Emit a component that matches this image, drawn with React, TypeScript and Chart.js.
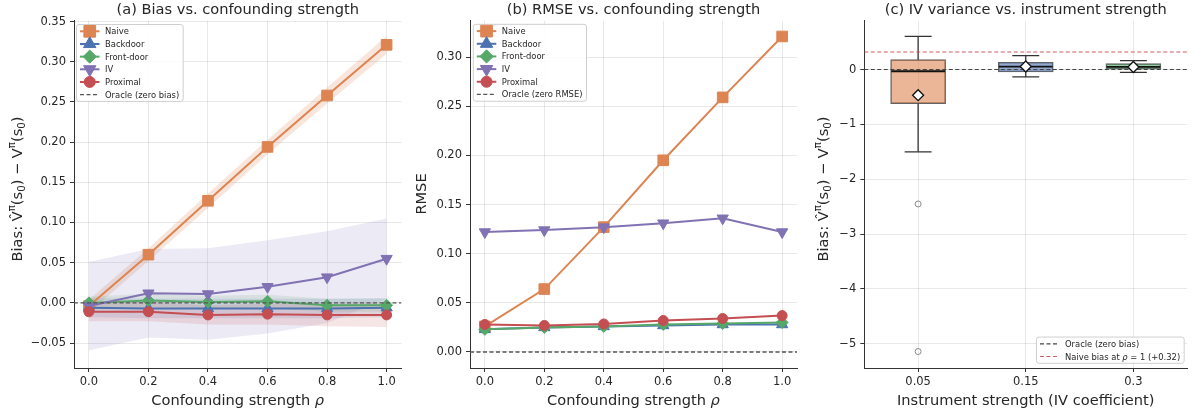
import React, { useEffect, useRef } from 'react';
import { Chart, registerables } from 'chart.js';

Chart.register(...registerables);

// ---------------- data ----------------
const rho = [0, 0.2, 0.4, 0.6, 0.8, 1.0];
const rhoTicks = [0, 0.2, 0.4, 0.6, 0.8, 1.0];
const biasTicks = [-0.05, 0, 0.05, 0.1, 0.15, 0.2, 0.25, 0.3, 0.35];
const rmseTicks = [0, 0.05, 0.1, 0.15, 0.2, 0.25, 0.3];

// (a) mean bias per method
const biasNaive = [-0.004, 0.060, 0.127, 0.194, 0.258, 0.321];
const biasBackdoor = [-0.006, -0.007, -0.007, -0.007, -0.007, -0.006];
const biasFrontdoor = [0.000, 0.003, 0.001, 0.002, -0.003, -0.003];
const biasIV = [-0.004, 0.012, 0.011, 0.020, 0.032, 0.055];
const biasProximal = [-0.011, -0.011, -0.015, -0.014, -0.015, -0.015];

// (a) half-widths of shaded bands
const bandNaive = [0.008, 0.008, 0.009, 0.009, 0.010, 0.011];
const bandBackdoor = [0.012, 0.012, 0.012, 0.012, 0.012, 0.012];
const bandFrontdoor = [0.008, 0.008, 0.008, 0.008, 0.008, 0.008];
const bandIV = [0.055, 0.055, 0.057, 0.058, 0.057, 0.050];
const bandProximal = [0.012, 0.012, 0.012, 0.013, 0.014, 0.015];

// (b) RMSE per method
const rmseNaive = [0.026, 0.064, 0.127, 0.195, 0.259, 0.321];
const rmseBackdoor = [0.023, 0.025, 0.026, 0.027, 0.028, 0.028];
const rmseFrontdoor = [0.023, 0.025, 0.026, 0.028, 0.029, 0.030];
const rmseIV = [0.122, 0.124, 0.127, 0.131, 0.136, 0.122];
const rmseProximal = [0.028, 0.027, 0.0285, 0.032, 0.034, 0.037];

// (c) IV bias distribution vs instrument strength
const ivStrength = ['0.05', '0.15', '0.3'];
const ivYTicks = [-5, -4, -3, -2, -1, 0];
const boxQ1 = [-0.62, -0.044, 0.0];
const boxQ3 = [0.18, 0.133, 0.109];
const boxMedian = [-0.031, 0.055, 0.05];
const boxMean = [-0.467, 0.055, 0.047];
const whiskerLow = [-1.50, -0.135, -0.05];
const whiskerHigh = [0.605, 0.255, 0.164];
const outliers = [[-2.45, -5.14], [], []];
const naiveBiasAtRho1 = 0.32;

// ---------------- styles ----------------
const FONT = '"DejaVu Sans", sans-serif';
const TXT = '#262626';
const GRID = 'rgba(0,0,0,0.09)';
const AXIS = '#333333';
const LABEL_SIZE = 14.6;
const COL = { blue: '#4C72B0', orange: '#DD8452', green: '#55A868', red: '#C44E52', purple: '#8172B3' };

function rgba(hex: string, a: number) {
  const n = parseInt(hex.slice(1), 16);
  return `rgba(${(n >> 16) & 255},${(n >> 8) & 255},${n & 255},${a})`;
}
const fmtMinus = (s: string) => s.replace('-', '\u2212');

type Method = { label: string; color: string; ps: string; r: number; rot: number; bias: number[]; band: number[]; rmse: number[]; bandAlpha: number };
const methods: Method[] = [
  { label: 'Naive', color: COL.orange, ps: 'rect', r: 7.5, rot: 0, bias: biasNaive, band: bandNaive, rmse: rmseNaive, bandAlpha: 0.2 },
  { label: 'Backdoor', color: COL.blue, ps: 'triangle', r: 6.5, rot: 0, bias: biasBackdoor, band: bandBackdoor, rmse: rmseBackdoor, bandAlpha: 0.15 },
  { label: 'Front-door', color: COL.green, ps: 'rectRot', r: 6, rot: 0, bias: biasFrontdoor, band: bandFrontdoor, rmse: rmseFrontdoor, bandAlpha: 0.15 },
  { label: 'IV', color: COL.purple, ps: 'triangle', r: 6.5, rot: 180, bias: biasIV, band: bandIV, rmse: rmseIV, bandAlpha: 0.15 },
  { label: 'Proximal', color: COL.red, ps: 'circle', r: 5, rot: 0, bias: biasProximal, band: bandProximal, rmse: rmseProximal, bandAlpha: 0.15 },
];

// ---------------- drawing helpers ----------------
type Seg = { t: string; s?: number; dy?: number; it?: boolean };
const segFont = (sg: Seg, size: number) => `${sg.it ? 'italic ' : ''}${size * (sg.s ?? 1)}px ${FONT}`;

function richWidth(ctx: CanvasRenderingContext2D, segs: Seg[], size: number) {
  let w = 0;
  for (const sg of segs) { ctx.font = segFont(sg, size); w += ctx.measureText(sg.t).width; }
  return w;
}
function drawRich(ctx: CanvasRenderingContext2D, segs: Seg[], x: number, baseline: number, size: number, color: string, align: 'center' | 'left') {
  const total = richWidth(ctx, segs, size);
  let cx = align === 'center' ? x - total / 2 : x;
  ctx.fillStyle = color;
  ctx.textAlign = 'left';
  ctx.textBaseline = 'alphabetic';
  for (const sg of segs) {
    ctx.font = segFont(sg, size);
    ctx.fillText(sg.t, cx, baseline + (sg.dy ?? 0) * size);
    cx += ctx.measureText(sg.t).width;
  }
}
function drawMarker(ctx: CanvasRenderingContext2D, style: string, rot: number, x: number, y: number, r: number, fill: string, stroke: string, lw: number) {
  ctx.beginPath();
  if (style === 'circle') ctx.arc(x, y, r, 0, Math.PI * 2);
  else if (style === 'rect') { const s = r * Math.SQRT1_2; ctx.rect(x - s, y - s, 2 * s, 2 * s); }
  else if (style === 'rectRot') { ctx.moveTo(x, y - r); ctx.lineTo(x + r, y); ctx.lineTo(x, y + r); ctx.lineTo(x - r, y); ctx.closePath(); }
  else if (style === 'triangle') {
    let a = (rot * Math.PI) / 180;
    ctx.moveTo(x + Math.sin(a) * r, y - Math.cos(a) * r);
    a += (2 * Math.PI) / 3; ctx.lineTo(x + Math.sin(a) * r, y - Math.cos(a) * r);
    a += (2 * Math.PI) / 3; ctx.lineTo(x + Math.sin(a) * r, y - Math.cos(a) * r);
    ctx.closePath();
  }
  ctx.fillStyle = fill; ctx.fill();
  ctx.lineWidth = lw; ctx.strokeStyle = stroke; ctx.stroke();
}

type LegendItem = { segs: Seg[]; color: string; dash?: number[]; lw: number; marker?: { style: string; rot: number; r: number } };
type Overlay = {
  xTitle: Seg[]; xBaseline: number;
  yTitle: Seg[]; yBaselineX: number; yCenter: number;
  legend: { anchor: 'tl' | 'br'; dx: number; dy: number; items: LegendItem[] };
};

function overlayPlugin(cfg: Overlay) {
  return {
    id: 'overlay',
    afterDraw(chart: any) {
      const ctx: CanvasRenderingContext2D = chart.ctx;
      const ca = chart.chartArea;
      ctx.save();
      drawRich(ctx, cfg.xTitle, (ca.left + ca.right) / 2, cfg.xBaseline, LABEL_SIZE, TXT, 'center');
      ctx.save();
      ctx.translate(cfg.yBaselineX, cfg.yCenter);
      ctx.rotate(-Math.PI / 2);
      drawRich(ctx, cfg.yTitle, 0, 0, LABEL_SIZE, TXT, 'center');
      ctx.restore();

      const L = cfg.legend;
      const fs = 8.4;
      const rowH = 12.66, first = 6.8, textX = 28.5, padR = 4, h0 = 3.5, h1 = 23;
      const tw = Math.max(...L.items.map(it => richWidth(ctx, it.segs, fs)));
      const w = textX + tw + padR;
      const h = first * 2 + (L.items.length - 1) * rowH;
      const bx = L.anchor === 'tl' ? ca.left + L.dx : ca.right - L.dx - w;
      const by = L.anchor === 'tl' ? ca.top + L.dy : ca.bottom - L.dy - h;
      const rr = 2.5;
      ctx.beginPath();
      ctx.moveTo(bx + rr, by);
      ctx.lineTo(bx + w - rr, by); ctx.arcTo(bx + w, by, bx + w, by + rr, rr);
      ctx.lineTo(bx + w, by + h - rr); ctx.arcTo(bx + w, by + h, bx + w - rr, by + h, rr);
      ctx.lineTo(bx + rr, by + h); ctx.arcTo(bx, by + h, bx, by + h - rr, rr);
      ctx.lineTo(bx, by + rr); ctx.arcTo(bx, by, bx + rr, by, rr);
      ctx.closePath();
      ctx.fillStyle = 'rgba(255,255,255,0.85)';
      ctx.fill();
      ctx.lineWidth = 1; ctx.strokeStyle = '#cfcfcf'; ctx.stroke();
      L.items.forEach((it, i) => {
        const cy = by + first + i * rowH;
        ctx.beginPath();
        ctx.setLineDash(it.dash ?? []);
        ctx.moveTo(bx + h0, cy); ctx.lineTo(bx + h1, cy);
        ctx.strokeStyle = it.color; ctx.lineWidth = it.lw; ctx.stroke();
        ctx.setLineDash([]);
        if (it.marker) drawMarker(ctx, it.marker.style, it.marker.rot, bx + (h0 + h1) / 2, cy, it.marker.r * 1.1, it.color, it.color, 1);
        drawRich(ctx, it.segs, bx + textX, cy + 0.36 * fs, fs, TXT, 'left');
      });
      ctx.restore();
    },
  };
}

function axis(ticks: number[], fmt: (v: number) => string, which: 'x' | 'y', fixed: number, min: number, max: number) {
  return {
    type: 'linear', min, max, offset: false,
    afterBuildTicks: (s: any) => { s.ticks = ticks.map(v => ({ value: v })); },
    afterFit: (s: any) => { if (which === 'x') s.height = fixed; else s.width = fixed; },
    grid: { color: GRID, lineWidth: 1, tickLength: 4, tickColor: AXIS, tickWidth: 1, offset: false },
    border: { color: AXIS, width: 1 },
    ticks: { font: { family: FONT, size: 11.5 }, color: TXT, padding: which === 'x' ? 3 : 4, callback: (v: any) => fmt(Number(v)), autoSkip: false, maxRotation: 0, minRotation: 0 },
    title: { display: false },
  };
}

function titleOpt(text: string) {
  return {
    display: true, text, fullSize: false, color: TXT,
    font: { family: FONT, size: 14.6, weight: 'normal' as const, lineHeight: 1.2 },
    padding: { top: 1.3, bottom: 1.9 },
  };
}

const biasYTitle: Seg[] = [
  { t: 'Bias: ' }, { t: 'V\u0302' }, { t: '\u03c0', s: 0.7, dy: -0.42 }, { t: '(s' }, { t: '0', s: 0.7, dy: 0.22 },
  { t: ') \u2212 V' }, { t: '\u03c0', s: 0.7, dy: -0.42 }, { t: '(s' }, { t: '0', s: 0.7, dy: 0.22 }, { t: ')' },
];
const rhoXTitle: Seg[] = [{ t: 'Confounding strength ' }, { t: '\u03c1', it: true }];

function methodLegend(oracleLabel: string): LegendItem[] {
  return [
    ...methods.map(m => ({ segs: [{ t: m.label }], color: m.color, lw: 2, marker: { style: m.ps, rot: m.rot, r: m.r } })),
    { segs: [{ t: oracleLabel }], color: '#555555', lw: 1.3, dash: [4, 2.5] },
  ];
}

function lineDs(m: Method, vals: number[]) {
  return {
    type: 'line', data: rho.map((x, i) => ({ x, y: vals[i] })),
    borderColor: m.color, backgroundColor: m.color, borderWidth: 2,
    pointStyle: m.ps, pointRadius: m.r, pointRotation: m.rot,
    pointBorderColor: m.color, pointBackgroundColor: m.color, pointBorderWidth: 1, fill: false,
  };
}
function oracleDs(xmin: number, xmax: number, color: string) {
  return {
    type: 'line', data: [{ x: xmin, y: 0 }, { x: xmax, y: 0 }], borderColor: color, borderWidth: 1.3,
    borderDash: [4, 2.5], pointRadius: 0, fill: false,
  };
}
function withOrder(ds: any[]) { ds.forEach((d, i) => { d.order = ds.length - i; }); return ds; }

const common = { animation: false as const, responsive: false, devicePixelRatio: 1, events: [] as any[] };

function configA(): any {
  const ds: any[] = [];
  methods.forEach(m => {
    ds.push({ type: 'line', data: rho.map((x, i) => ({ x, y: m.bias[i] - m.band[i] })), borderWidth: 0, pointRadius: 0, fill: false, borderColor: 'transparent' });
    ds.push({ type: 'line', data: rho.map((x, i) => ({ x, y: m.bias[i] + m.band[i] })), borderWidth: 0, pointRadius: 0, fill: '-1', borderColor: 'transparent', backgroundColor: rgba(m.color, m.bandAlpha) });
  });
  methods.forEach(m => ds.push(lineDs(m, m.bias)));
  ds.push(oracleDs(-0.05, 1.05, '#555555'));
  return {
    type: 'line',
    data: { datasets: withOrder(ds) },
    options: {
      ...common,
      layout: { padding: { left: 0, right: 8.3, top: 0, bottom: 0 } },
      plugins: { legend: { display: false }, tooltip: { enabled: false }, title: titleOpt('(a) Bias vs. confounding strength') },
      scales: {
        x: axis(rhoTicks, v => v.toFixed(1), 'x', 46, -0.05, 1.05),
        y: axis(biasTicks, v => fmtMinus(v.toFixed(2)), 'y', 74, -0.081, 0.351),
      },
    },
    plugins: [overlayPlugin({
      xTitle: rhoXTitle, xBaseline: 405.3,
      yTitle: biasYTitle, yBaselineX: 21.5, yCenter: 189,
      legend: { anchor: 'tl', dx: 2.5, dy: 3.8, items: methodLegend('Oracle (zero bias)') },
    })],
  };
}

function configB(): any {
  const ds: any[] = methods.map(m => lineDs(m, m.rmse));
  ds.push(oracleDs(-0.05, 1.05, '#555555'));
  return {
    type: 'line',
    data: { datasets: withOrder(ds) },
    options: {
      ...common,
      layout: { padding: { left: 0, right: 13, top: 0, bottom: 0 } },
      plugins: { legend: { display: false }, tooltip: { enabled: false }, title: titleOpt('(b) RMSE vs. confounding strength') },
      scales: {
        x: axis(rhoTicks, v => v.toFixed(1), 'x', 46, -0.05, 1.05),
        y: axis(rmseTicks, v => fmtMinus(v.toFixed(2)), 'y', 60, -0.0163, 0.337),
      },
    },
    plugins: [overlayPlugin({
      xTitle: rhoXTitle, xBaseline: 405.3,
      yTitle: [{ t: 'RMSE' }], yBaselineX: 15.5, yCenter: 194,
      legend: { anchor: 'tl', dx: 3.3, dy: 3.6, items: methodLegend('Oracle (zero RMSE)') },
    })],
  };
}

function configC(): any {
  const boxColors = [COL.orange, COL.blue, COL.green];
  const ds: any[] = [];
  ds.push({
    type: 'bar', data: ivStrength.map((_, i) => ({ x: i, y: [boxQ1[i], boxQ3[i]] })),
    backgroundColor: boxColors.map(c => rgba(c, 0.6)), borderColor: 'rgba(70,70,70,0.85)', borderWidth: 1,
    borderSkipped: false, barThickness: 55, grouped: false,
  });
  const seg = (pts: { x: number; y: number }[], color: string, w: number) => ({
    type: 'line', data: pts, borderColor: color, borderWidth: w, pointRadius: 0, fill: false,
  });
  ivStrength.forEach((_, i) => {
    ds.push(seg([{ x: i, y: whiskerLow[i] }, { x: i, y: boxQ1[i] }], '#333333', 1.3));
    ds.push(seg([{ x: i, y: boxQ3[i] }, { x: i, y: whiskerHigh[i] }], '#333333', 1.3));
    ds.push(seg([{ x: i - 0.125, y: whiskerLow[i] }, { x: i + 0.125, y: whiskerLow[i] }], '#333333', 1.3));
    ds.push(seg([{ x: i - 0.125, y: whiskerHigh[i] }, { x: i + 0.125, y: whiskerHigh[i] }], '#333333', 1.3));
  });
  ivStrength.forEach((_, i) => {
    ds.push(seg([{ x: i - 0.25, y: boxMedian[i] }, { x: i + 0.25, y: boxMedian[i] }], '#111111', 1.8));
  });
  ds.push({
    type: 'line', showLine: false, data: outliers.flatMap((arr, i) => arr.map(y => ({ x: i, y }))),
    pointStyle: 'circle', pointRadius: 3, pointBackgroundColor: 'rgba(255,255,255,0)', pointBorderColor: '#8a8a8a', pointBorderWidth: 1,
  });
  ds.push({ ...oracleDs(-0.5, 2.5, '#444444'), borderWidth: 1.1 });
  ds.push({
    type: 'line', data: [{ x: -0.5, y: naiveBiasAtRho1 }, { x: 2.5, y: naiveBiasAtRho1 }],
    borderColor: rgba(COL.red, 0.9), borderWidth: 1.1, borderDash: [4, 2.5], pointRadius: 0, fill: false,
  });
  ds.push({
    type: 'line', showLine: false, data: ivStrength.map((_, i) => ({ x: i, y: boxMean[i] })),
    pointStyle: 'rectRot', pointRadius: 5.5, pointBackgroundColor: '#ffffff', pointBorderColor: '#111111', pointBorderWidth: 1.3,
  });
  return {
    type: 'bar',
    data: { datasets: withOrder(ds) },
    options: {
      ...common,
      layout: { padding: { left: 0, right: 4, top: 0, bottom: 0 } },
      plugins: { legend: { display: false }, tooltip: { enabled: false }, title: titleOpt('(c) IV variance vs. instrument strength') },
      scales: {
        x: { ...axis([0, 1, 2], v => ivStrength[Math.round(v)] ?? '', 'x', 46, -0.5, 2.5), grid: { color: GRID, lineWidth: 1, tickLength: 4, tickColor: AXIS, tickWidth: 1, offset: false } },
        y: axis(ivYTicks, v => fmtMinus(String(Math.round(v))), 'y', 54.3, -5.44, 0.89),
      },
    },
    plugins: [overlayPlugin({
      xTitle: [{ t: 'Instrument strength (IV coefficient)' }], xBaseline: 405.3,
      yTitle: biasYTitle, yBaselineX: 17.5, yCenter: 189,
      legend: {
        anchor: 'br', dx: 3, dy: 4.7, items: [
          { segs: [{ t: 'Oracle (zero bias)' }], color: '#444444', lw: 1.1, dash: [4, 2.5] },
          { segs: [{ t: 'Naive bias at ' }, { t: '\u03c1', it: true }, { t: ' = 1 (+0.32)' }], color: rgba(COL.red, 0.9), lw: 1.1, dash: [4, 2.5] },
        ],
      },
    })],
  };
}

function Panel({ left, width, make }: { left: number; width: number; make: () => any }) {
  const ref = useRef<HTMLCanvasElement>(null);
  useEffect(() => {
    const chart = new Chart(ref.current as HTMLCanvasElement, make());
    return () => chart.destroy();
  }, []);
  return <canvas ref={ref} width={width} height={414} style={{ position: 'absolute', left, top: 0, width, height: 414 }} />;
}

export default function App() {
  return (
    <div style={{ position: 'absolute', left: 0, top: 0, width: 1194, height: 414, background: '#ffffff', overflow: 'hidden' }}>
      <Panel left={0} width={410} make={configA} />
      <Panel left={410} width={400} make={configB} />
      <Panel left={810} width={384} make={configC} />
    </div>
  );
}
